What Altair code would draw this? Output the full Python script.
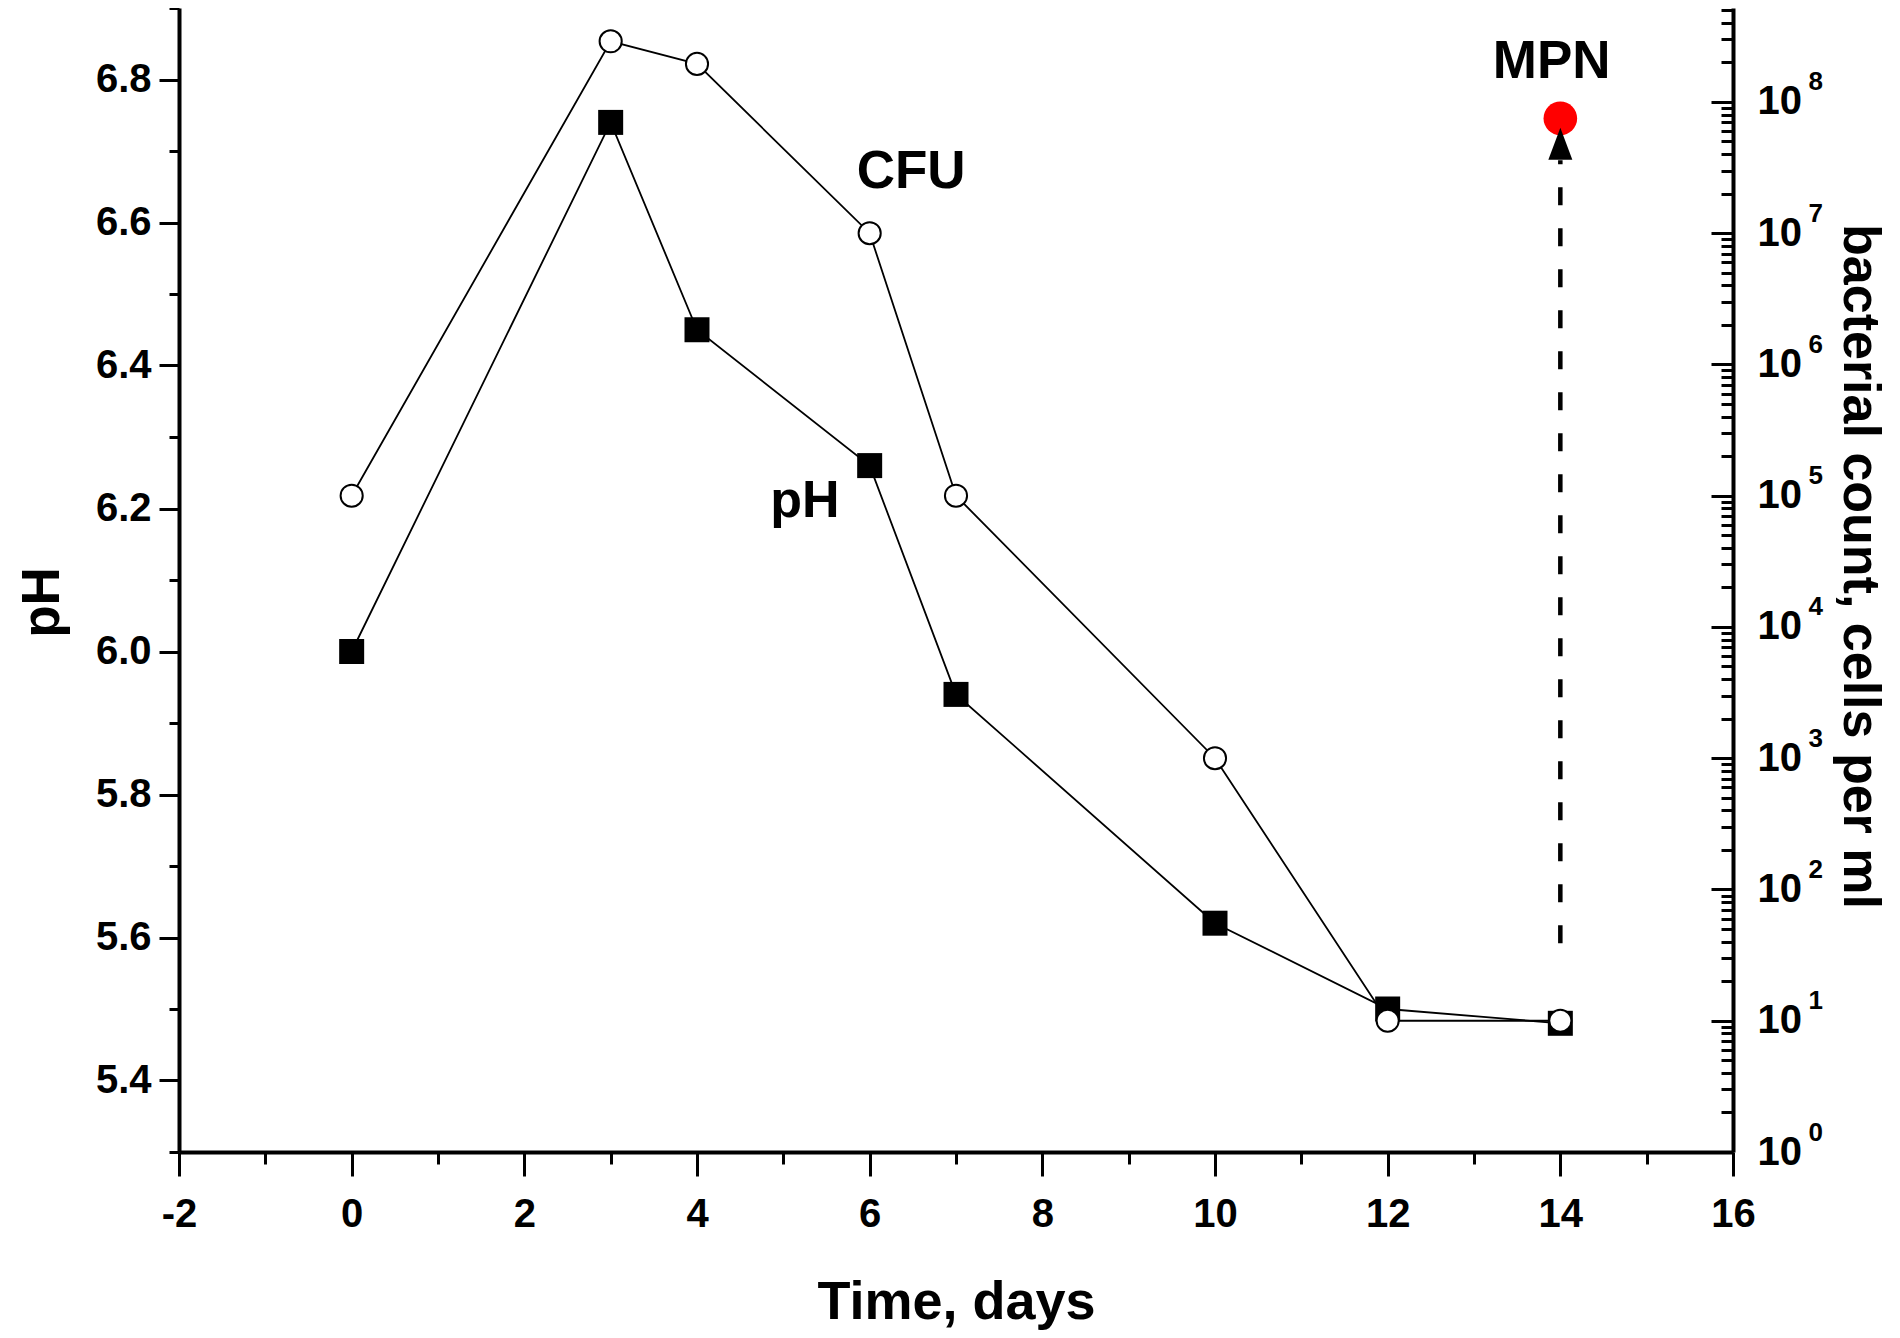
import altair as alt
import pandas as pd

# ---------------- data ----------------
days = [0, 3, 4, 6, 7, 10, 12, 14]
ph_values = [6.00, 6.74, 6.45, 6.26, 5.94, 5.62, 5.50, 5.48]
cfu_values = [1.0e5, 2.9e8, 1.95e8, 1.0e7, 1.0e5, 1.0e3, 10, 10]

mpn_day = [14]
mpn_values = [7.5e7]

arrow_day = [14]
arrow_start = [39]
arrow_end = [3.6e7]
arrow_head_value = [4.8e7]

ph_label_text = ["pH"]
ph_label_day = [5.25]
ph_label_value = [6.21]

count_label_text = ["CFU", "MPN"]
count_label_day = [6.48, 13.90]
count_label_value = [2.95e7, 2.0e8]

x_tick_values = [-2, -1, 0, 1, 2, 3, 4, 5, 6, 7, 8, 9, 10, 11, 12, 13, 14, 15, 16]
ph_tick_values = [5.3, 5.4, 5.5, 5.6, 5.7, 5.8, 5.9, 6.0, 6.1, 6.2, 6.3,
                  6.4, 6.5, 6.6, 6.7, 6.8, 6.9]
decade_values = [1, 10, 100, 1000, 10000, 100000, 1000000, 10000000, 100000000]
count_tick_values = [k * d for d in decade_values for k in range(1, 10) if k * d <= 5e8]

# ---------------- tables ----------------
ph_df = pd.DataFrame({"day": days, "ph": ph_values})
cfu_df = pd.DataFrame({"day": days, "count": cfu_values})
mpn_df = pd.DataFrame({"day": mpn_day, "count": mpn_values})
arrow_df = pd.DataFrame({"day": arrow_day, "count": arrow_start, "count_end": arrow_end})
head_df = pd.DataFrame({"day": arrow_day, "count": arrow_head_value})
ph_txt_df = pd.DataFrame({"day": ph_label_day, "ph": ph_label_value, "label": ph_label_text})
cnt_txt_df = pd.DataFrame({"day": count_label_day, "count": count_label_value,
                           "label": count_label_text})

FONT = "Liberation Sans"
W, H = 1554, 1144

x_scale = alt.Scale(domain=[-2, 16], nice=False, zero=False)
ph_scale = alt.Scale(domain=[5.3, 6.9], nice=False, zero=False)
log_scale = alt.Scale(type="log", domain=[1, 5.2e8], nice=False)

is_pow10 = "abs(log(datum.value)/LN10 - round(log(datum.value)/LN10)) < 1e-6"

x_axis = alt.Axis(
    values=x_tick_values,
    labelExpr="datum.value % 2 == 0 ? '' + datum.value : ''",
    tickSize={"condition": {"test": "datum.value % 2 == 0", "value": 24}, "value": 12},
    tickWidth=3, tickColor="black", domainWidth=4, domainColor="black",
    labelFont=FONT, labelFontSize=40, labelFontWeight="bold", labelColor="black",
    labelPadding=18, labelFlush=False, labelOverlap=False, labelBound=False,
    title="Time, days", titleFont=FONT, titleFontSize=54, titleFontWeight="bold",
    titleColor="black", titleBaseline="alphabetic", titleY=166, grid=False,
)

ph_axis = alt.Axis(
    orient="left", values=ph_tick_values,
    labelExpr="round(datum.value*10) % 2 == 0 ? format(datum.value, '.1f') : ''",
    tickSize={"condition": {"test": "round(datum.value*10) % 2 == 0", "value": 20}, "value": 10},
    tickWidth=3, tickColor="black", domainWidth=4, domainColor="black",
    labelFont=FONT, labelFontSize=40, labelFontWeight="bold", labelColor="black",
    labelPadding=8, labelFlush=False, labelOverlap=False, labelBound=False,
    title="pH", titleFont=FONT, titleFontSize=53, titleFontWeight="bold",
    titleColor="black", titleAngle=-90, titleBaseline="alphabetic", titleAlign="center",
    titleX=-121, titleY=594, grid=False,
)

count_axis = alt.Axis(
    orient="right", values=decade_values, labelExpr="'10'",
    ticks=False, tickSize=0, domainWidth=4, domainColor="black",
    labelFont=FONT, labelFontSize=40, labelFontWeight="bold", labelColor="black",
    labelPadding=24, labelFlush=False, labelOverlap=False, labelBound=False,
    title="bacterial count, cells per ml", titleFont=FONT, titleFontSize=52,
    titleFontWeight="bold", titleColor="black", titleAngle=90,
    titleBaseline="alphabetic", titleAlign="center", titleX=110, titleY=558, grid=False,
)

exp_axis = alt.Axis(
    orient="right", values=decade_values,
    labelExpr="'' + round(log(datum.value)/LN10)",
    ticks=False, tickSize=0, domain=False,
    labelFont=FONT, labelFontSize=26, labelFontWeight="bold", labelColor="black",
    labelPadding=75, labelOffset=-20, labelFlush=False, labelOverlap=False, labelBound=False,
    title=None, grid=False,
)

tick_axis = alt.Axis(
    orient="left", offset=-W, values=count_tick_values, labels=False, domain=False,
    tickSize={"condition": {"test": is_pow10, "value": 22}, "value": 12},
    tickWidth=3, tickColor="black", title=None, grid=False,
)

X = alt.X("day:Q", scale=x_scale, axis=x_axis)
Y_ph = alt.Y("ph:Q", scale=ph_scale, axis=ph_axis)
Y_cnt = alt.Y("count:Q", scale=log_scale, axis=count_axis)

# ---------------- pH group ----------------
ph_line = alt.Chart(ph_df).mark_line(color="black", strokeWidth=1.8).encode(x=X, y=Y_ph)
ph_pts = alt.Chart(ph_df).mark_point(
    shape="square", filled=True, color="black", size=625, opacity=1
).encode(x=X, y=Y_ph)
ph_txt = alt.Chart(ph_txt_df).mark_text(
    font=FONT, fontSize=52, fontWeight="bold", color="black", align="center", baseline="middle"
).encode(x=X, y=Y_ph, text="label:N")
ph_group = alt.layer(ph_line, ph_pts, ph_txt)

# ---------------- count group ----------------
cfu_line = alt.Chart(cfu_df).mark_line(color="black", strokeWidth=1.8).encode(x=X, y=Y_cnt)
cfu_pts = alt.Chart(cfu_df).mark_point(
    shape="circle", filled=True, fill="white", stroke="black", strokeWidth=2,
    size=490, opacity=1
).encode(x=X, y=Y_cnt)
arrow = alt.Chart(arrow_df).mark_rule(
    color="black", strokeWidth=4.5, strokeDash=[18, 23]
).encode(x=X, y=Y_cnt, y2="count_end:Q")
head = alt.Chart(head_df).mark_point(
    shape="M0,-1L0.75,1L-0.75,1Z", filled=True, color="black", size=1024, opacity=1
).encode(x=X, y=Y_cnt)
mpn_pt = alt.Chart(mpn_df).mark_point(
    shape="circle", filled=True, color="#ff0000", size=1130, opacity=1
).encode(x=X, y=Y_cnt)
cnt_txt = alt.Chart(cnt_txt_df).mark_text(
    font=FONT, fontSize=53, fontWeight="bold", color="black", align="center", baseline="middle"
).encode(x=X, y=Y_cnt, text="label:N")
count_group = alt.layer(cfu_line, arrow, mpn_pt, head, cfu_pts, cnt_txt)

# ---------------- extra axes for the count scale ----------------
tick_layer = alt.Chart(cfu_df).mark_point(opacity=0).encode(
    x=X, y=alt.Y("count:Q", scale=log_scale, axis=tick_axis)
)
exp_layer = alt.Chart(cfu_df).mark_point(opacity=0).encode(
    x=X, y=alt.Y("count:Q", scale=log_scale, axis=exp_axis)
)

chart = alt.layer(ph_group, count_group, tick_layer, exp_layer).resolve_scale(
    y="independent"
).properties(
    width=W, height=H,
    padding={"left": 171, "top": 0, "right": 159, "bottom": 178},
    autosize=alt.AutoSizeParams(type="none"),
    background="white",
).configure_view(stroke=None)

chart.save("out.html", embed_options={"renderer": "svg", "actions": False})
